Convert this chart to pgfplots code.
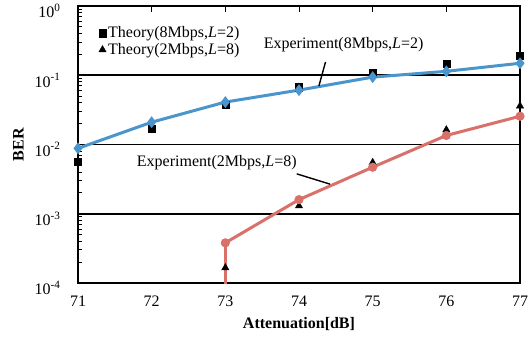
\documentclass[border=0pt]{standalone}
\usepackage{fontspec}
\setmainfont{Liberation Serif}
\usepackage{pgfplots}
\pgfplotsset{compat=1.18}
\definecolor{expblue}{RGB}{74,149,204}
\definecolor{expred}{RGB}{217,112,106}
\begin{document}
\begin{tikzpicture}[font=\fontsize{16}{19}\selectfont]
\useasboundingbox (-78pt,-56pt) rectangle (451pt,283pt);
\begin{axis}[
  scale only axis, width=442pt, height=277pt,
  xmin=71, xmax=77, ymode=log, ymin=1e-4, ymax=1,
  xtick={71,72,73,74,75,76,77},
  xtick pos=top, xticklabel pos=bottom,
  ytick pos=left,
  tick align=inside,
  major tick length=6pt, minor tick length=4pt,
  ytick={1e-4,1e-3,1e-2,1e-1,1},
  yticklabels={10\textsuperscript{-4},10\textsuperscript{-3},10\textsuperscript{-2},10\textsuperscript{-1},10\textsuperscript{0}},
  yticklabel style={anchor=east, xshift=-14pt, yshift=-5pt},
  xticklabel style={yshift=-9pt},
  /pgf/number format/assume math mode=true,
  ymajorgrids, major grid style={black, line width=1.8pt},
  axis line style={black, line width=2.2pt},
  tick style={black, line width=1pt},
  minor tick style={black, line width=1pt},
  xlabel={\textbf{Attenuation[dB]}},
  ylabel={\textbf{BER}},
  xlabel style={yshift=-4pt},
  ylabel style={yshift=4pt},
  legend style={draw=none, fill=none, at={(0.04,0.94)}, anchor=north west,
    font=\fontsize{16}{19}\selectfont, row sep=0pt,
    /tikz/every even column/.append style={column sep=0pt}},
  legend cell align=left,
  legend image code/.code={\draw[#1] plot coordinates {(0.15cm,0cm)};},
  clip=true,
]
\addplot[only marks, mark=square*, mark size=3.6pt, black]
  coordinates {(71,0.0056) (72,0.017) (73,0.038) (74,0.067) (75,0.107) (76,0.145) (77,0.19)};
\addlegendentry{Theory(8Mbps,\textit{L}=2)}
\addplot[only marks, mark=triangle*, mark size=4.2pt, black]
  coordinates {(73,1.66e-4) (74,1.3e-3) (75,5.5e-3) (76,0.0163) (77,0.036)};
\addlegendentry{Theory(2Mbps,\textit{L}=8)}
\addplot[expblue, line width=3pt, mark=diamond*, mark size=3.5pt, mark options={solid}, forget plot]
  coordinates {(71,0.0088) (72,0.021) (73,0.041) (74,0.061) (75,0.094) (76,0.114) (77,0.149)};
\addplot[expred, line width=3pt, forget plot]
  coordinates {(73,1e-5) (73,3.8e-4)};
\addplot[expred, line width=3pt, mark=*, mark size=3pt, forget plot]
  coordinates {(73,3.8e-4) (74,1.6e-3) (75,4.7e-3) (76,0.0135) (77,0.0256)};
\node at (rel axis cs:0.601,0.859) {Experiment(8Mbps,\textit{L}=2)};
\draw[black, line width=1.4pt] (rel axis cs:0.560,0.798) -- (rel axis cs:0.545,0.711);
\node at (rel axis cs:0.314,0.433) {Experiment(2Mbps,\textit{L}=8)};
\draw[black, line width=1.4pt] (rel axis cs:0.495,0.394) -- (rel axis cs:0.570,0.357);
\end{axis}
\end{tikzpicture}
\end{document}
